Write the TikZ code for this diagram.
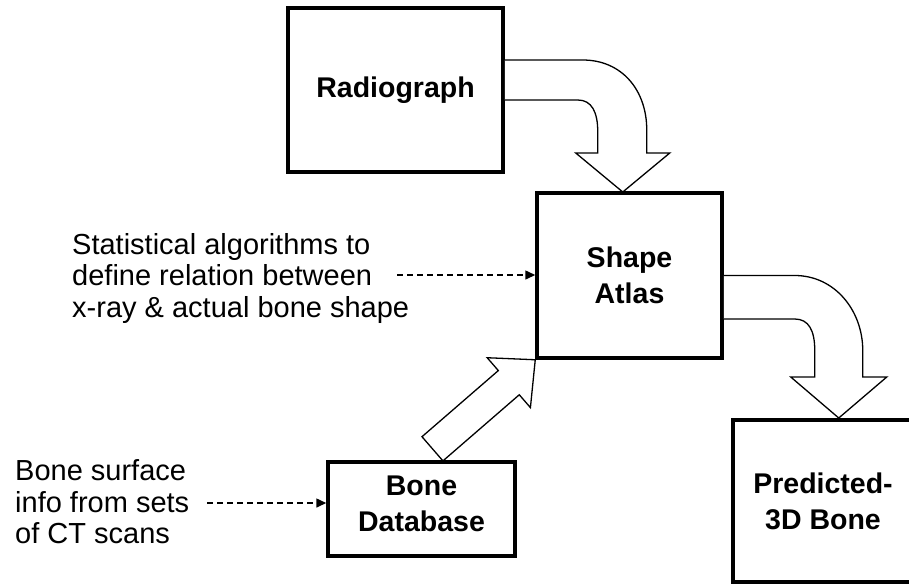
\documentclass[tikz,border=0pt]{standalone}
\usepackage{fontspec}
\setmainfont{Liberation Sans}
\usetikzlibrary{arrows.meta}

\tikzset{
  box/.style={draw, line width=3.5pt, inner sep=0pt, align=center,
              font=\fontsize{28.5}{36}\selectfont\bfseries},
  blockarrow/.style={draw, fill=white, line width=1.3pt, line join=miter},
  note/.style={align=left, inner sep=0pt, anchor=west,
               font=\fontsize{29}{31.5}\selectfont},
  dasharrow/.style={->, line width=1.5pt, dash pattern=on 6pt off 4pt},
}

\begin{document}
\begin{tikzpicture}[>={Triangle[length=10pt,width=9pt]}, x=1pt, y=-1pt]
                \useasboundingbox (0,0) rectangle (909,584);
                % 1) The four boxes
                \node[box, minimum width=215pt, minimum height=164pt] (radio) at (395.5,90) {Radiograph};
                \node[box, minimum width=185pt, minimum height=165pt] (atlas) at (629.5,275.5) {Shape\\Atlas};
                \node[box, minimum width=187pt, minimum height=94pt, text depth=10pt] (bonedb) at (421.5,509) {Bone\\Database};
                \node[box, minimum width=180pt, minimum height=162pt] (pred) at (823,501) {Predicted-\\3D Bone};
                % 2) Side notes with dashed arrows into the boxes
                \node[note] (stattxt) at (72,278) {Statistical algorithms to\\define relation between\\x-ray \& actual bone shape};
                \node[note] (bonetxt) at (15,502) {Bone surface\\info from sets\\of CT scans};
                \coordinate (statend) at (397,275);
                \coordinate (boneend) at (207,503);
                \draw[dasharrow] (statend) -- (statend -| atlas.west);
                \draw[dasharrow] (boneend) -- (boneend -| bonedb.west);
                % 3) Bent block arrow: radiograph -> shape atlas
                \begin{scope}[shift={(radio.east)}]
                  \draw[blockarrow] (0,-30) -- (78,-30)
                       .. controls (117,-30) and (142,0) .. (142,40)
                       -- (142,63) -- (165,63) -- (118,102) -- (71,63) -- (93,63) -- (93,42)
                       .. controls (93,22) and (87,10) .. (73,10) -- (0,10);
                \end{scope}
                % 4) Bent block arrow: shape atlas -> predicted bone
                \begin{scope}[shift={(atlas.east)}]
                  \draw[blockarrow] (0,0) -- (71,0)
                       .. controls (111,0) and (139,35) .. (139,75)
                       -- (139,101.5) -- (163,101.5) -- (115,142.5) -- (67,101.5) -- (91,101.5) -- (91,75)
                       .. controls (91,55) and (85,43.5) .. (71,43.5) -- (0,43.5);
                \end{scope}
                % 5) Straight block arrow: bone database -> shape atlas
                \begin{scope}[shift={(atlas.south west)}, rotate=40.9]
                  \draw[blockarrow] (0,0) -- (-35,33) -- (-35,16) -- (-136,16)
                       -- (-136,-16) -- (-35,-16) -- (-35,-33) -- cycle;
                \end{scope}
            \end{tikzpicture}
\end{document}
